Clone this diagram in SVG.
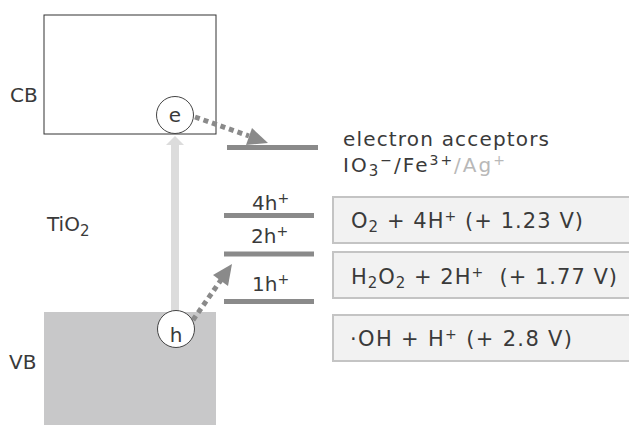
<svg xmlns="http://www.w3.org/2000/svg" width="629" height="425" viewBox="0 0 629 425">
<style>
text{font-family:"DejaVu Sans","Noto Sans",sans-serif;font-size:20px;fill:#3a3a3a}
.big{font-size:21px}
.sup{font-size:14px}
.sub{font-size:15px}
.lvl{stroke:#8a8a8a;stroke-width:5;fill:none}
.box{fill:#f2f2f2;stroke:#c4c4c4;stroke-width:2}
.dot{stroke:#8a8a8a;stroke-width:5;stroke-dasharray:5 4;fill:none}
.head{fill:#8a8a8a}
.circ{fill:#fff;stroke:#444;stroke-width:1}
.grey{fill:#b8b8b8}
</style>
<g id="cb">
<rect x="44" y="15" width="172" height="119" fill="#fff" stroke="#333" stroke-width="1"/>
<text x="10" y="102">CB</text>
</g>
<g id="vb">
<rect x="44" y="312" width="172" height="113" fill="#c8c8c9"/>
<text x="9" y="369">VB</text>
</g>
<g id="tio2"><text x="47" y="231">TiO<tspan class="sub" dy="5">2</tspan></text></g>
<g id="connectors">
<rect x="171" y="144" width="8" height="170" fill="#dcdcdc"/>
<polygon points="175,136 184,145 166,145" fill="#dcdcdc"/>
<line class="dot" x1="195" y1="117" x2="249" y2="136"/>
<polygon class="head" points="268,143 246,145 252,128"/>
<line class="dot" x1="193" y1="320" x2="221" y2="280"/>
<polygon class="head" points="232,264 228,286 213,275"/>
</g>
<g id="electron">
<circle class="circ" cx="175" cy="115" r="18.5"/>
<text x="175" y="122" text-anchor="middle">e</text>
</g>
<g id="hole">
<circle class="circ" cx="176" cy="329" r="18.5"/>
<text x="176" y="342" text-anchor="middle">h</text>
</g>
<g id="acceptor">
<line class="lvl" x1="227" y1="147.5" x2="318" y2="147.5"/>
<text x="343" y="146" textLength="206" lengthAdjust="spacing">electron acceptors</text>
<text x="343" y="172" textLength="162" lengthAdjust="spacing">IO<tspan class="sub" dy="4">3</tspan><tspan class="sup" dy="-11">−</tspan><tspan dy="7">/Fe</tspan><tspan class="sup" dy="-7">3+</tspan><tspan class="grey" dy="7">/Ag</tspan><tspan class="sup grey" dy="-7">+</tspan></text>
</g>
<g id="level-4h">
<line class="lvl" x1="224" y1="215.5" x2="314" y2="215.5"/>
<text x="252" y="210">4h<tspan class="sup" dy="-7">+</tspan></text>
</g>
<g id="level-2h">
<line class="lvl" x1="224" y1="254" x2="314" y2="254"/>
<text x="251" y="243">2h<tspan class="sup" dy="-7">+</tspan></text>
</g>
<g id="level-1h">
<line class="lvl" x1="224" y1="301.5" x2="314" y2="301.5"/>
<text x="252" y="291">1h<tspan class="sup" dy="-7">+</tspan></text>
</g>
<g id="box-o2">
<rect class="box" x="333" y="197" width="310" height="46"/>
<text class="big" x="351" y="228" textLength="232" lengthAdjust="spacing">O<tspan class="sub" dy="4">2</tspan><tspan dy="-4"> + 4H</tspan><tspan class="sup" dy="-7">+</tspan><tspan dy="7"> (+ 1.23 V)</tspan></text>
</g>
<g id="box-h2o2">
<rect class="box" x="333" y="252" width="310" height="46"/>
<text class="big" x="351" y="284" textLength="266" lengthAdjust="spacing">H<tspan class="sub" dy="4">2</tspan><tspan dy="-4">O</tspan><tspan class="sub" dy="4">2</tspan><tspan dy="-4"> + 2H</tspan><tspan class="sup" dy="-7">+</tspan><tspan dy="7" xml:space="preserve">  (+ 1.77 V)</tspan></text>
</g>
<g id="box-oh">
<rect class="box" x="333" y="315" width="310" height="46"/>
<text class="big" x="350" y="346" textLength="222" lengthAdjust="spacing">·OH + H<tspan class="sup" dy="-7">+</tspan><tspan dy="7"> (+ 2.8 V)</tspan></text>
</g>
</svg>
